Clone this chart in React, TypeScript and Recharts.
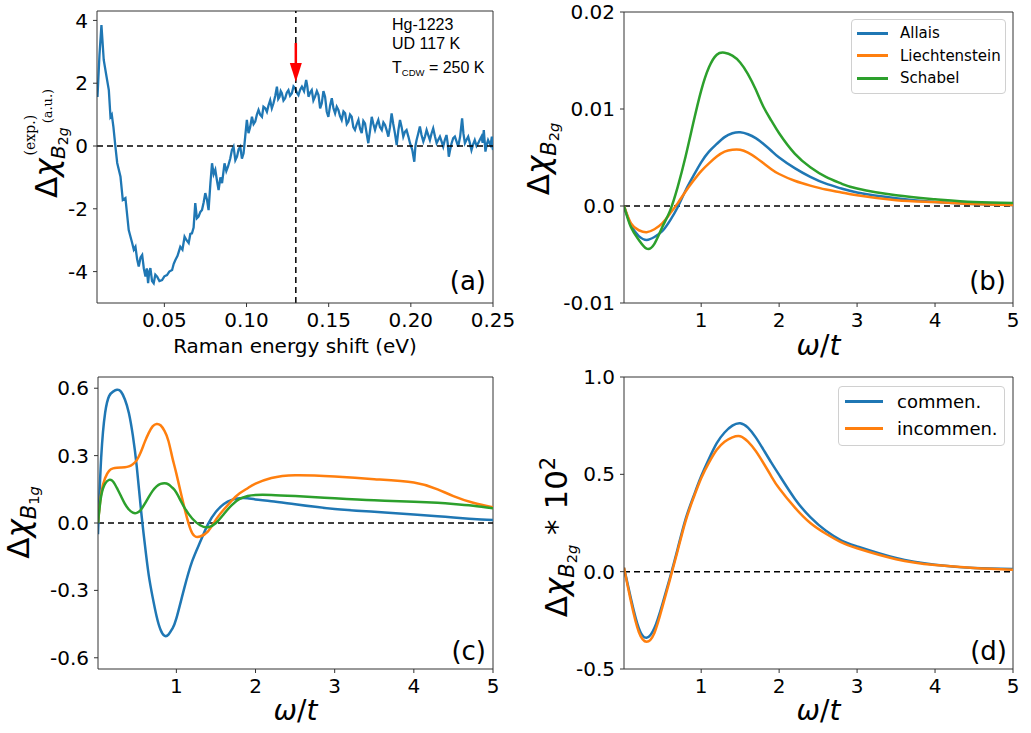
import React from "react";
import {
  LineChart,
  Line,
  XAxis,
  YAxis,
  ReferenceLine,
  ReferenceDot,
  Legend,
} from "recharts";

const FONT = "DejaVu Sans";
const BLUE = "#1f77b4";
const ORANGE = "#ff7f0e";
const GREEN = "#2ca02c";

// (a) measured B2g difference spectrum, Hg-1223
const ramanShift = [
  0.0093, 0.0105, 0.0117, 0.0131, 0.0145, 0.0162, 0.0172, 0.018, 0.019, 0.0202,
  0.0213, 0.0233, 0.0247, 0.0263, 0.0283, 0.0304, 0.0314, 0.0324, 0.0334, 0.0344,
  0.0355, 0.0365, 0.0375, 0.0385, 0.0393, 0.0401, 0.0408, 0.0415, 0.0425, 0.0435,
  0.0445, 0.0456, 0.047, 0.0486, 0.05, 0.0516, 0.053, 0.0547, 0.0557, 0.0567,
  0.058, 0.0597, 0.061, 0.0623, 0.0635, 0.0648, 0.0658, 0.0668, 0.0678, 0.0688,
  0.0698, 0.0708, 0.0719, 0.0729, 0.0739, 0.0749, 0.0759, 0.0769, 0.078, 0.079,
  0.08, 0.081, 0.082, 0.083, 0.0841, 0.0851, 0.0866, 0.0877, 0.0887, 0.0901,
  0.0911, 0.0921, 0.0932, 0.0942, 0.0952, 0.0962, 0.0972, 0.0982, 0.0992, 0.1002,
  0.1012, 0.1022, 0.1033, 0.1043, 0.1053, 0.1063, 0.1073, 0.1083, 0.1094, 0.1103,
  0.1114, 0.1124, 0.1134, 0.1144, 0.1154, 0.1164, 0.1175, 0.1185, 0.1193, 0.1201,
  0.1208, 0.1215, 0.1225, 0.1235, 0.1245, 0.1255, 0.1265, 0.1276, 0.1286, 0.1296,
  0.1306, 0.1316, 0.1327, 0.1337, 0.135, 0.1363, 0.137, 0.1377, 0.1387, 0.1397,
  0.1407, 0.1417, 0.1428, 0.1438, 0.1448, 0.1458, 0.1468, 0.1478, 0.1488, 0.1498,
  0.1509, 0.1519, 0.1529, 0.1539, 0.1549, 0.1559, 0.1569, 0.1579, 0.159, 0.16,
  0.161, 0.162, 0.163, 0.164, 0.165, 0.166, 0.1671, 0.1681, 0.1691, 0.1701,
  0.1711, 0.1721, 0.1731, 0.1741, 0.1752, 0.1762, 0.1772, 0.1782, 0.1792, 0.1802,
  0.1812, 0.1823, 0.1833, 0.1843, 0.1853, 0.1863, 0.1873, 0.1883, 0.1893, 0.1903,
  0.1914, 0.1924, 0.1934, 0.1944, 0.1954, 0.1964, 0.1974, 0.1985, 0.1995, 0.2009,
  0.2021, 0.2028, 0.2035, 0.2045, 0.2055, 0.2065, 0.2076, 0.2086, 0.2096, 0.2106,
  0.2116, 0.2126, 0.2136, 0.2147, 0.2157, 0.2167, 0.2177, 0.2187, 0.2197, 0.2207,
  0.2217, 0.2224, 0.2231, 0.224, 0.2248, 0.2258, 0.2268, 0.2278, 0.2288, 0.23,
  0.2312, 0.232, 0.2329, 0.2339, 0.2349, 0.2359, 0.2369, 0.2379, 0.2389, 0.24,
  0.241, 0.242, 0.243, 0.2437, 0.2444, 0.2454, 0.2462, 0.247, 0.2478, 0.2485,
  0.2493, 0.25,
];
const expSignal = [
  1.56, 2.9, 3.85, 2.74, 2.3, 1.78, 0.93, 1.0, 0.6, -0.02,
  -0.54, -0.98, -1.72, -1.66, -2.68, -3.09, -3.3, -3.21, -3.6, -3.84,
  -3.55, -3.47, -3.9, -4.16, -3.9, -4.37, -4.0, -3.89, -4.3, -4.37,
  -4.1, -4.16, -4.3, -4.27, -4.15, -4.11, -4.0, -3.95, -3.75, -3.63,
  -3.5, -3.21, -3.3, -2.89, -3.0, -3.09, -2.8, -2.78, -2.6, -1.82,
  -2.3, -2.25, -2.1, -2.04, -1.8, -1.5, -1.7, -2.04, -1.2, -0.55,
  -0.9, -0.76, -1.1, -1.4, -1.0, -1.18, -0.55, -0.8, -0.66, -0.4,
  -0.13, -0.02, -0.45, -0.34, -0.1, -0.02, -0.4, -0.23, 0.3, 0.83,
  0.41, 0.6, 0.93, 0.7, 0.78, 1.0, 1.15, 1.0, 0.93, 1.25,
  1.2, 1.09, 1.3, 1.46, 1.2, 1.36, 1.6, 1.89, 1.5, 1.57,
  1.75, 1.68, 1.45, 1.52, 1.7, 1.78, 1.6, 1.68, 1.9, 1.84,
  1.7, 1.62, 1.8, 1.89, 1.75, 2.1, 1.9, 1.57, 1.7, 1.78,
  1.45, 1.57, 1.75, 1.62, 1.2, 1.36, 1.75, 1.57, 1.1, 0.93,
  1.3, 1.52, 1.2, 1.04, 1.25, 1.15, 0.95, 0.83, 1.1, 1.04,
  0.7, 0.78, 1.0, 0.93, 0.6, 0.51, 0.7, 0.83, 0.55, 0.41,
  0.8, 0.72, 0.4, 0.09, 0.5, 0.93, 0.7, 0.51, 0.7, 0.83,
  0.6, 0.51, 0.75, 0.67, 0.5, 0.3, 0.6, 1.04, 0.7, 0.41,
  0.03, 0.5, 0.83, 0.6, 0.3, 0.45, 0.51, 0.3, 0.09, -0.13,
  -0.5, 0.0, 0.19, 0.4, 0.62, 0.35, 0.14, 0.3, 0.51, 0.35,
  0.19, 0.4, 0.56, 0.3, 0.09, 0.2, 0.3, 0.15, -0.02, 0.2,
  0.35, 0.1, -0.34, -0.1, 0.09, 0.25, 0.3, 0.15, -0.02, 0.3,
  0.88, 0.4, 0.09, 0.2, 0.3, 0.1, -0.13, 0.05, 0.19, 0.0,
  0.09, 0.2, 0.3, 0.1, 0.51, -0.18, 0.05, 0.19, 0.1, 0.03,
  0.3, -0.13,
];
const ramanTicks = [0.05, 0.1, 0.15, 0.2, 0.25];
const expTicks = [-4, -2, 0, 2, 4];
const peakShift = 0.13;

// (b) B2g response for three parameter sets
const omegaB = [
  0.01, 0.1, 0.2, 0.3, 0.4, 0.5, 0.6, 0.7, 0.8, 0.9, 1.0, 1.1, 1.2, 1.3, 1.4,
  1.5, 1.6, 1.7, 1.8, 1.9, 2.0, 2.2, 2.4, 2.6, 2.8, 3.0, 3.5, 4.0, 4.5, 5.0,
];
const allaisB2g = [
  0, -0.002, -0.0031, -0.0035, -0.0032, -0.0026, -0.0015, -0.0001, 0.0016, 0.0031,
  0.0045, 0.0056, 0.0064, 0.0071, 0.0075, 0.0076, 0.0074, 0.007, 0.0064, 0.0057,
  0.005, 0.0039, 0.003, 0.0023, 0.0018, 0.0014, 0.0008, 0.0004, 0.0002, 0.0001,
];
const liechtensteinB2g = [
  0, -0.0018, -0.0025, -0.0027, -0.0024, -0.0018, -0.0008, 0.0003, 0.0015, 0.0026,
  0.0036, 0.0044, 0.0051, 0.0056, 0.0058, 0.0058, 0.0055, 0.005, 0.0044, 0.0038,
  0.0033, 0.0026, 0.0021, 0.0017, 0.0014, 0.0011, 0.0006, 0.0004, 0.0002, 0.0001,
];
const schabelB2g = [
  0, -0.0022, -0.0035, -0.0044, -0.0039, -0.0022, -0.0005, 0.002, 0.0051, 0.0086,
  0.0119, 0.0143, 0.0156, 0.0158, 0.0155, 0.0148, 0.0136, 0.012, 0.0102, 0.0088,
  0.0075, 0.0054, 0.004, 0.003, 0.0023, 0.0018, 0.0011, 0.0007, 0.0004, 0.0003,
];
const b2gTicks = [-0.01, 0, 0.01, 0.02];

// (c) B1g response for the same parameter sets
const omegaC = [
  0.01, 0.05, 0.1, 0.15, 0.2, 0.25, 0.3, 0.35, 0.4, 0.45, 0.5, 0.55, 0.6, 0.65,
  0.7, 0.75, 0.8, 0.85, 0.9, 0.95, 1.0, 1.1, 1.2, 1.3, 1.4, 1.5, 1.6, 1.7, 1.8,
  1.9, 2.0, 2.2, 2.5, 3.0, 3.5, 4.0, 4.3, 4.5, 4.75, 5.0,
];
const allaisB1g = [
  -0.05, 0.29, 0.49, 0.565, 0.585, 0.593, 0.585, 0.55, 0.49, 0.39, 0.25, 0.07, -0.09, -0.23,
  -0.33, -0.415, -0.475, -0.502, -0.497, -0.47, -0.425, -0.29, -0.17, -0.085, -0.005, 0.05, 0.085, 0.103, 0.11,
  0.11, 0.105, 0.097, 0.083, 0.062, 0.05, 0.038, 0.03, 0.025, 0.018, 0.013,
];
const liechtensteinB1g = [
  0, 0.13, 0.2, 0.232, 0.243, 0.246, 0.247, 0.248, 0.252, 0.262, 0.28, 0.315, 0.36, 0.4,
  0.43, 0.441, 0.435, 0.41, 0.365, 0.29, 0.22, 0.07, -0.045, -0.06, -0.037, 0.015, 0.06, 0.1, 0.132,
  0.155, 0.175, 0.2, 0.213, 0.207, 0.195, 0.18, 0.15, 0.12, 0.09, 0.07,
];
const schabelB1g = [
  0, 0.12, 0.175, 0.192, 0.185, 0.155, 0.12, 0.085, 0.06, 0.046, 0.045, 0.058, 0.085, 0.115,
  0.143, 0.163, 0.174, 0.177, 0.172, 0.157, 0.135, 0.07, 0.02, -0.01, -0.019, 0.0, 0.04, 0.08, 0.107,
  0.12, 0.125, 0.125, 0.12, 0.11, 0.101, 0.095, 0.09, 0.085, 0.077, 0.066,
];
const b1gTicks = [-0.6, -0.3, 0, 0.3, 0.6];

// (d) commensurate vs incommensurate order, B2g x 100
const omegaD = omegaB;
const commen = [
  0.02, -0.14, -0.29, -0.34, -0.29, -0.17, -0.03, 0.12, 0.27, 0.385,
  0.49, 0.58, 0.66, 0.715, 0.75, 0.762, 0.74, 0.69, 0.626, 0.56,
  0.497, 0.375, 0.28, 0.21, 0.16, 0.13, 0.07, 0.036, 0.019, 0.014,
];
const incommen = [
  0.02, -0.155, -0.31, -0.36, -0.315, -0.185, -0.04, 0.11, 0.26, 0.377,
  0.48, 0.56, 0.626, 0.668, 0.69, 0.696, 0.668, 0.62, 0.557, 0.49,
  0.428, 0.33, 0.25, 0.195, 0.15, 0.12, 0.064, 0.034, 0.019, 0.01,
];
const scaledTicks = [-0.5, 0, 0.5, 1.0];
const omegaTicks = [1, 2, 3, 4, 5];

const spectrum = ramanShift.map((x, i) => ({ x, y: expSignal[i] }));
const dataB = omegaB.map((x, i) => ({
  x,
  allais: allaisB2g[i],
  liechtenstein: liechtensteinB2g[i],
  schabel: schabelB2g[i],
}));
const dataC = omegaC.map((x, i) => ({
  x,
  allais: allaisB1g[i],
  liechtenstein: liechtensteinB1g[i],
  schabel: schabelB1g[i],
}));
const dataD = omegaD.map((x, i) => ({ x, commen: commen[i], incommen: incommen[i] }));

const tick = { fontSize: 20, fill: "#000", fontFamily: FONT };
const axisColor = "#333";

function LegendBox({ payload, fontSize, swatch, gap, rowHeight, padding }) {
  return (
    <div
      style={{
        border: "1px solid #d0d0d0",
        borderRadius: 4,
        background: "rgba(255,255,255,0.85)",
        padding,
        fontFamily: FONT,
        fontSize,
        color: "#000",
        boxSizing: "border-box",
      }}
    >
      {(payload || []).map((item) => (
        <div key={item.value} style={{ display: "flex", alignItems: "center", height: rowHeight }}>
          <span style={{ display: "inline-block", width: swatch, borderTop: `3px solid ${item.color}`, marginRight: gap }} />
          <span style={{ whiteSpace: "nowrap" }}>{item.value}</span>
        </div>
      ))}
    </div>
  );
}

const ArrowHead = (p) => (
  <polygon points={`${p.cx - 6},${p.cy - 9.5} ${p.cx + 6},${p.cy - 9.5} ${p.cx},${p.cy + 9.5}`} fill="#ff0000" />
);

const fmtB = (v) => (v === 0 ? "0.0" : v.toFixed(2));
const fmt1 = (v) => v.toFixed(1);

function OmegaLabel({ x, y }) {
  return (
    <text x={x} y={y} fontSize={28} textAnchor="middle">
      <tspan fontStyle="italic">ω</tspan>/<tspan fontStyle="italic">t</tspan>
    </text>
  );
}

export default function App() {
  return (
    <div style={{ position: "absolute", left: 0, top: 0, width: 1031, height: 733, background: "#fff", fontFamily: FONT }}>
      {/* (a) */}
      <div style={{ position: "absolute", left: 0, top: 0 }}>
        <LineChart width={520} height={360} data={spectrum} margin={{ top: 11, right: 27, bottom: 12, left: 37 }}>
          <XAxis type="number" dataKey="x" domain={[0.009, 0.25]} allowDataOverflow ticks={ramanTicks} interval={0}
            tickFormatter={(v) => v.toFixed(2)} stroke={axisColor} tickSize={4} tickMargin={6} height={45} tick={tick} />
          <YAxis type="number" domain={[-5, 4.3]} allowDataOverflow ticks={expTicks} interval={0}
            stroke={axisColor} tickSize={4} tickMargin={5} width={60} tick={tick} />
          <ReferenceLine y={4.3} stroke={axisColor} strokeWidth={1} />
          <ReferenceLine x={0.25} stroke={axisColor} strokeWidth={1} />
          <Line type="linear" dataKey="y" stroke={BLUE} strokeWidth={2.3} dot={false} isAnimationActive={false} />
          <ReferenceLine y={0} stroke="#000" strokeWidth={1.5} strokeDasharray="6 4" />
          <ReferenceLine x={peakShift} stroke="#000" strokeWidth={1.5} strokeDasharray="6 4" />
          <ReferenceLine segment={[{ x: peakShift, y: 3.28 }, { x: peakShift, y: 2.6 }]} stroke="#ff0000" strokeWidth={2.5} />
          <ReferenceDot x={peakShift} y={2.34} r={0} shape={ArrowHead} />
        </LineChart>
      </div>

      {/* (b) */}
      <div style={{ position: "absolute", left: 520, top: 0 }}>
        <LineChart width={511} height={360} data={dataB} margin={{ top: 12, right: 18, bottom: 12, left: 44 }}>
          <XAxis type="number" dataKey="x" domain={[0.01, 5]} allowDataOverflow ticks={omegaTicks} interval={0}
            stroke={axisColor} tickSize={4} tickMargin={6} height={45} tick={tick} />
          <YAxis type="number" domain={[-0.01, 0.02]} allowDataOverflow ticks={b2gTicks} interval={0}
            tickFormatter={fmtB} stroke={axisColor} tickSize={4} tickMargin={5} width={60} tick={tick} />
          <ReferenceLine y={0.02} stroke={axisColor} strokeWidth={1} />
          <ReferenceLine x={5} stroke={axisColor} strokeWidth={1} />
          <ReferenceLine y={0} stroke="#000" strokeWidth={1.5} strokeDasharray="6 4" />
          <Line type="natural" dataKey="allais" name="Allais" stroke={BLUE} strokeWidth={2.5} dot={false} isAnimationActive={false} />
          <Line type="natural" dataKey="liechtenstein" name="Liechtenstein" stroke={ORANGE} strokeWidth={2.5} dot={false} isAnimationActive={false} />
          <Line type="natural" dataKey="schabel" name="Schabel" stroke={GREEN} strokeWidth={2.5} dot={false} isAnimationActive={false} />
          <Legend layout="vertical" align="center" verticalAlign="middle"
            wrapperStyle={{ left: 331, top: 19, width: 155 }}
            content={(p) => <LegendBox payload={p.payload} fontSize={15} swatch={31} gap={12} rowHeight={22.5} padding="2px 4px 3px 5px" />} />
        </LineChart>
      </div>

      {/* (c) */}
      <div style={{ position: "absolute", left: 0, top: 360 }}>
        <LineChart width={520} height={373} data={dataC} margin={{ top: 17, right: 27, bottom: 19, left: 38 }}>
          <XAxis type="number" dataKey="x" domain={[0.01, 5]} allowDataOverflow ticks={omegaTicks} interval={0}
            stroke={axisColor} tickSize={4} tickMargin={6} height={45} tick={tick} />
          <YAxis type="number" domain={[-0.65, 0.65]} allowDataOverflow ticks={b1gTicks} interval={0}
            tickFormatter={fmt1} stroke={axisColor} tickSize={4} tickMargin={5} width={60} tick={tick} />
          <ReferenceLine y={0.65} stroke={axisColor} strokeWidth={1} />
          <ReferenceLine x={5} stroke={axisColor} strokeWidth={1} />
          <ReferenceLine y={0} stroke="#000" strokeWidth={1.5} strokeDasharray="6 4" />
          <Line type="natural" dataKey="allais" stroke={BLUE} strokeWidth={2.5} dot={false} isAnimationActive={false} />
          <Line type="natural" dataKey="liechtenstein" stroke={ORANGE} strokeWidth={2.5} dot={false} isAnimationActive={false} />
          <Line type="natural" dataKey="schabel" stroke={GREEN} strokeWidth={2.5} dot={false} isAnimationActive={false} />
        </LineChart>
      </div>

      {/* (d) */}
      <div style={{ position: "absolute", left: 520, top: 360 }}>
        <LineChart width={511} height={373} data={dataD} margin={{ top: 17, right: 18, bottom: 19, left: 44 }}>
          <XAxis type="number" dataKey="x" domain={[0.01, 5]} allowDataOverflow ticks={omegaTicks} interval={0}
            stroke={axisColor} tickSize={4} tickMargin={6} height={45} tick={tick} />
          <YAxis type="number" domain={[-0.5, 1.0]} allowDataOverflow ticks={scaledTicks} interval={0}
            tickFormatter={fmt1} stroke={axisColor} tickSize={4} tickMargin={5} width={60} tick={tick} />
          <ReferenceLine y={1.0} stroke={axisColor} strokeWidth={1} />
          <ReferenceLine x={5} stroke={axisColor} strokeWidth={1} />
          <ReferenceLine y={0} stroke="#000" strokeWidth={1.5} strokeDasharray="6 4" />
          <Line type="natural" dataKey="commen" name="commen." stroke={BLUE} strokeWidth={2.5} dot={false} isAnimationActive={false} />
          <Line type="natural" dataKey="incommen" name="incommen." stroke={ORANGE} strokeWidth={2.5} dot={false} isAnimationActive={false} />
          <Legend layout="vertical" align="center" verticalAlign="middle"
            wrapperStyle={{ left: 318, top: 26, width: 167 }}
            content={(p) => <LegendBox payload={p.payload} fontSize={18} swatch={38} gap={14} rowHeight={27} padding="1px 4px 3px 6px" />} />
        </LineChart>
      </div>

      {/* titles and annotations */}
      <svg width={1031} height={733} style={{ position: "absolute", left: 0, top: 0, pointerEvents: "none" }} fontFamily={FONT}>
        <text x={486} y={290} fontSize={26} textAnchor="end">(a)</text>
        <text x={1006} y={290} fontSize={26} textAnchor="end">(b)</text>
        <text x={486} y={660} fontSize={26} textAnchor="end">(c)</text>
        <text x={1007} y={660} fontSize={26} textAnchor="end">(d)</text>

        <g fontFamily="Liberation Sans" fontSize={16}>
          <text x={392} y={30}>Hg-1223</text>
          <text x={392} y={49}>UD 117 K</text>
          <text x={392} y={73}>
            T<tspan fontSize={9.5} dy={3}>CDW</tspan><tspan dy={-3}> = 250 K</tspan>
          </text>
        </g>

        <text x={295} y={353} fontSize={20} textAnchor="middle">Raman energy shift (eV)</text>
        <OmegaLabel x={818.5} y={355} />
        <OmegaLabel x={295.5} y={720} />
        <OmegaLabel x={818.5} y={720} />

        {/* (a) y label */}
        <text transform="translate(57,198) rotate(-90)" fontSize={31}>
          Δ<tspan fontStyle="italic">χ</tspan>
          <tspan fontFamily="DejaVu Serif" fontSize={14} dx={3} dy={-22}>(exp.)</tspan>
          <tspan dx={-44} dy={30} fontStyle="italic" fontSize={20}>B</tspan>
          <tspan dy={3} fontSize={14}>2</tspan>
          <tspan fontStyle="italic" fontSize={14}>g</tspan>
          <tspan fontFamily="DejaVu Serif" fontSize={13} dx={4} dy={-16.5}>(a.u.)</tspan>
        </text>

        {/* (b) y label */}
        <text transform="translate(549,159) rotate(-90)" fontSize={31} textAnchor="middle">
          Δ<tspan fontStyle="italic">χ</tspan>
          <tspan dy={7} fontStyle="italic" fontSize={21}>B</tspan>
          <tspan dy={3} fontSize={14.5}>2</tspan>
          <tspan fontStyle="italic" fontSize={14.5}>g</tspan>
        </text>

        {/* (c) y label */}
        <text transform="translate(29,522.5) rotate(-90)" fontSize={31} textAnchor="middle">
          Δ<tspan fontStyle="italic">χ</tspan>
          <tspan dy={7} fontStyle="italic" fontSize={21}>B</tspan>
          <tspan dy={3} fontSize={14.5}>1</tspan>
          <tspan fontStyle="italic" fontSize={14.5}>g</tspan>
        </text>

        {/* (d) y label */}
        <text transform="translate(567,537) rotate(-90)" fontSize={31} textAnchor="middle">
          Δ<tspan fontStyle="italic">χ</tspan>
          <tspan dy={7} fontStyle="italic" fontSize={21}>B</tspan>
          <tspan dy={3} fontSize={14.5}>2</tspan>
          <tspan fontStyle="italic" fontSize={14.5}>g</tspan>
          <tspan dy={-10}> * 10</tspan>
          <tspan dy={-12} fontSize={21}>2</tspan>
        </text>
      </svg>
    </div>
  );
}
